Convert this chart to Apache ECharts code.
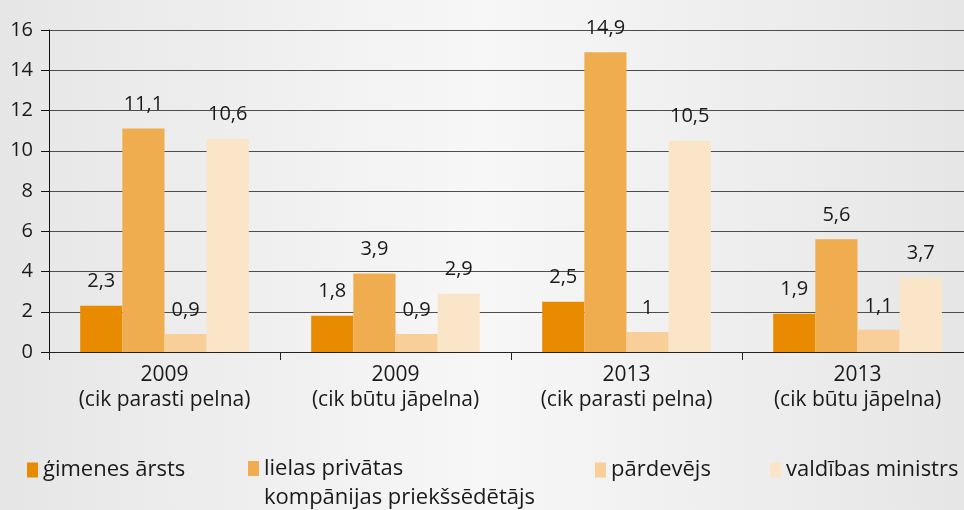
<!DOCTYPE html>
<html>
<head>
<meta charset="utf-8">
<script src="https://cdn.jsdelivr.net/npm/echarts@6/dist/echarts.min.js"></script>
<style>
  html, body { margin: 0; padding: 0; }
  #main { width: 964px; height: 510px; }
</style>
</head>
<body>
<div id="main"></div>
<script>
var categories = ['2009\n(cik parasti pelna)', '2009\n(cik būtu jāpelna)', '2013\n(cik parasti pelna)', '2013\n(cik būtu jāpelna)'];
var seriesNames = ['ģimenes ārsts', 'lielas privātas kompānijas priekšsēdētājs', 'pārdevējs', 'valdības ministrs'];
var gimenesArsts = [2.3, 1.8, 2.5, 1.9];
var lielasPrivatas = [11.1, 3.9, 14.9, 5.6];
var pardevejs = [0.9, 0.9, 1, 1.1];
var valdibasMinistrs = [10.6, 2.9, 10.5, 3.7];
var colors = ['#E98B00', '#EFAD4F', '#F8CF98', '#FBE5C8'];

var font = 'Open Sans';
var textColor = '#1a1a1a';

function comma(v) {
  return String(v).replace('.', ',');
}

function makeSeries(name, data, color) {
  return {
    name: name,
    type: 'bar',
    data: data,
    barGap: '0%',
    barCategoryGap: '27%',
    itemStyle: { color: color },
    label: {
      show: true,
      position: 'top',
      distance: 14,
      fontFamily: font,
      fontSize: 20,
      color: textColor,
      formatter: function (p) { return comma(p.value); }
    }
  };
}

function makeLegend(name, left, extra) {
  var l = {
    data: [name],
    left: left,
    top: 459,
    padding: 0,
    icon: 'rect',
    itemWidth: 11,
    itemHeight: 15,
    textStyle: { fontFamily: font, fontSize: 22, color: textColor }
  };
  if (extra) Object.assign(l, extra);
  return l;
}

var myChart = echarts.init(document.getElementById('main'));

var option = {
  animation: false,
  backgroundColor: {
    type: 'linear', x: 0, y: 0, x2: 1, y2: 0,
    colorStops: [
      { offset: 0, color: '#e6e6e6' },
      { offset: 0.5, color: '#f7f7f7' },
      { offset: 1, color: '#e6e6e6' }
    ]
  },
  // plot area runs a little past the right edge, as in the original
  grid: { left: 49, top: 30, width: 924, bottom: 158, outerBoundsMode: 'none' },
  legend: [
    makeLegend(seriesNames[0], 27),
    // two-line label: icon drawn in the top part of a taller symbol so it sits beside line one
    makeLegend(seriesNames[1], 248, {
      top: 454,
      icon: 'path://M0,0H11V15H0Z M0,44H11',
      itemHeight: 44,
      formatter: function () { return 'lielas privātas\nkompānijas priekšsēdētājs'; },
      textStyle: { fontFamily: font, fontSize: 22, color: textColor, lineHeight: 29 }
    }),
    makeLegend(seriesNames[2], 595),
    makeLegend(seriesNames[3], 770)
  ],
  xAxis: {
    type: 'category',
    data: categories,
    axisLine: { lineStyle: { color: '#222', width: 1 } },
    axisTick: { show: true, length: 8, lineStyle: { color: '#222' } },
    axisLabel: { fontFamily: font, fontSize: 21, color: textColor, lineHeight: 25, margin: 11 }
  },
  yAxis: {
    type: 'value',
    min: 0,
    max: 16,
    interval: 2,
    axisLine: { show: true, lineStyle: { color: '#111', width: 1 } },
    axisTick: { show: true, length: 8, lineStyle: { color: '#111' } },
    axisLabel: { fontFamily: font, fontSize: 20, color: textColor, margin: 16 },
    splitLine: { lineStyle: { color: '#4d4d4d', width: 1 } }
  },
  series: [
    makeSeries(seriesNames[0], gimenesArsts, colors[0]),
    makeSeries(seriesNames[1], lielasPrivatas, colors[1]),
    makeSeries(seriesNames[2], pardevejs, colors[2]),
    makeSeries(seriesNames[3], valdibasMinistrs, colors[3])
  ]
};
myChart.setOption(option);
</script>
</body>
</html>
